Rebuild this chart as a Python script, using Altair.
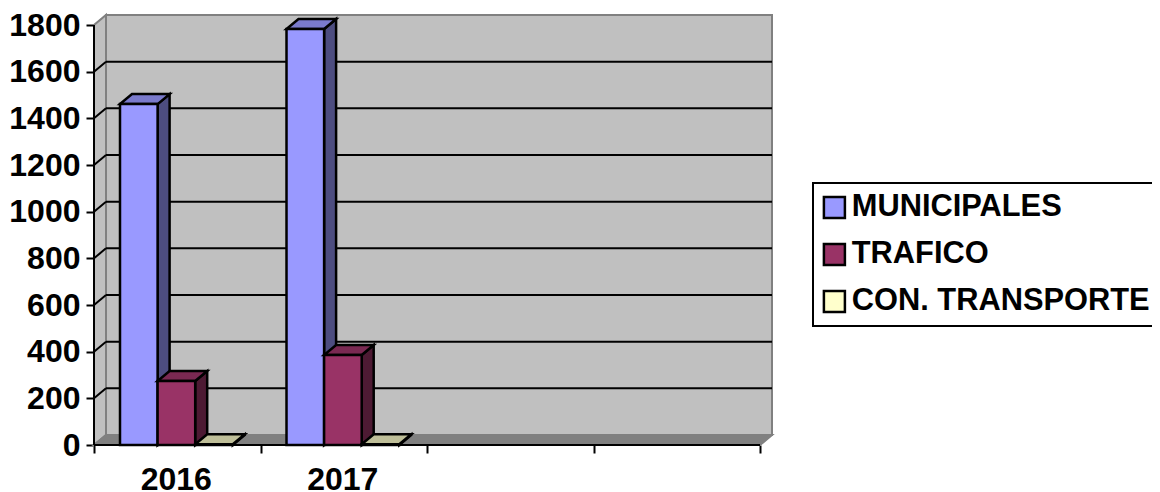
import altair as alt
import pandas as pd

# ---- values ----
years = ["2016", "2017"]
slots = 4
series = ["MUNICIPALES", "TRAFICO", "CON. TRANSPORTE"]
municipales = [1461, 1783]
trafico = [274, 386]
transporte = [3, 3]
y_ticks = [0, 200, 400, 600, 800, 1000, 1200, 1400, 1600, 1800]

front_colors = ["#9999FF", "#993366", "#FFFFCC"]
side_colors = ["#4D4D80", "#4D1A33", "#808066"]
top_colors = ["#7A7ACC", "#7A2952", "#BFBF99"]

# ---- pseudo-3D geometry, in scale units ----
YMAX = 1800
DX = 12 / 166.5
DY = 10 / 420 * 1800
GAP = 26 / 166.5
BAR = 37.6 / 166.5
FONT = "Liberation Sans"
FS = 32
LEGEND_FS = 30.8
BAR_SW = 2.5

XS = alt.Scale(domain=[0, slots + DX], range=[0, 678], nice=False, zero=False)
YS = alt.Scale(domain=[0, YMAX + DY], range=[430, 0], nice=False, zero=False)

tick_positions = sorted(list(range(slots + 1)) + [i + 0.5 for i in range(len(years))])
label_expr = "+".join(
    [f"(datum.value=={i + 0.5}?'{y}':'')" for i, y in enumerate(years)]
)
XAXIS = alt.Axis(
    values=tick_positions,
    labelExpr=label_expr,
    domain=False,
    grid=False,
    tickColor="black",
    tickWidth=2,
    tickSize=8,
    tickOpacity={"condition": {"test": "datum.value % 1 != 0", "value": 0}, "value": 1},
    labelFont=FONT,
    labelFontSize=FS,
    labelFontWeight="bold",
    labelColor="black",
    labelPadding=11,
    labelOffset=-1.5,
    labelFlush=False,
    labelOverlap=False,
)
YAXIS = alt.Axis(
    values=y_ticks,
    domain=False,
    grid=False,
    format="d",
    tickColor="black",
    tickWidth=2,
    tickSize=8,
    labelFont=FONT,
    labelFontSize=FS,
    labelFontWeight="bold",
    labelColor="black",
    labelPadding=6,
    labelOverlap=False,
    labelFlush=False,
)


def X(f="x"):
    return alt.X(f"{f}:Q", scale=XS, title=None, axis=XAXIS)


def Y(f="y"):
    return alt.Y(f"{f}:Q", scale=YS, title=None, stack=None, axis=YAXIS)


def poly(rows, fill, stroke, sw=2):
    """rows: (id, x, y, y2) slices of a polygon drawn as an area"""
    df = pd.DataFrame(rows, columns=["id", "x", "y", "y2"])
    return (
        alt.Chart(df)
        .mark_area(fill=fill, stroke=stroke, strokeWidth=sw, strokeJoin="miter", opacity=1)
        .encode(x=X(), y=Y(), y2="y2:Q", detail="id:N")
    )


wall = (
    alt.Chart(pd.DataFrame({"x": [DX], "x2": [slots + DX], "y": [DY], "y2": [YMAX + DY]}))
    .mark_rect(fill="#C0C0C0", stroke="#808080", strokeWidth=2)
    .encode(x=X(), x2="x2:Q", y=Y(), y2="y2:Q")
)

side_wall = poly(
    [("w", 0, 0, YMAX), ("w", DX, DY, YMAX + DY)], "#C0C0C0", "#808080"
)
floor = poly(
    [
        ("f", 0, 0, 0),
        ("f", DX, 0, DY),
        ("f", slots, 0, DY),
        ("f", slots + DX, DY, DY),
    ],
    "#808080",
    "#808080",
)

grid_vals = [v for v in y_ticks if 0 < v < YMAX]
grid = (
    alt.Chart(pd.DataFrame({"x": [DX] * len(grid_vals), "x2": [slots + DX] * len(grid_vals),
                            "y": [v + DY for v in grid_vals]}))
    .mark_rule(color="black", strokeWidth=2)
    .encode(x=X(), x2="x2:Q", y=Y())
)
diag = (
    alt.Chart(pd.DataFrame({"x": [0] * len(grid_vals), "x2": [DX] * len(grid_vals),
                            "y": grid_vals, "y2": [v + DY for v in grid_vals]}))
    .mark_rule(color="black", strokeWidth=2)
    .encode(x=X(), x2="x2:Q", y=Y(), y2="y2:Q")
)

y_line = (
    alt.Chart(pd.DataFrame({"x": [0], "y": [0], "y2": [YMAX]}))
    .mark_rule(color="black", strokeWidth=2)
    .encode(x=X(), y=Y(), y2="y2:Q")
)
x_line = (
    alt.Chart(pd.DataFrame({"x": [0], "x2": [slots], "y": [0]}))
    .mark_rule(color="black", strokeWidth=2)
    .encode(x=X(), x2="x2:Q", y=Y())
)

layers = [wall, side_wall, floor, grid, diag]

legend = alt.Legend(
    orient="none",
    legendX=719,
    legendY=168,
    title=None,
    labelFont=FONT,
    labelFontSize=LEGEND_FS,
    labelFontWeight="bold",
    labelColor="black",
    symbolType="square",
    symbolSize=441,
    symbolOffset=-3,
    symbolStrokeColor="black",
    symbolStrokeWidth=2.5,
    fillColor="white",
    strokeColor="black",
    padding=9,
    rowPadding=15,
    labelOffset=2,
    labelLimit=400,
)

for s, (name, vals) in enumerate(zip(series, [municipales, trafico, transporte])):
    lefts = [i + GAP + s * BAR for i in range(len(years))]
    side_rows, top_rows = [], []
    for j, (x0, v) in enumerate(zip(lefts, vals)):
        x1 = x0 + BAR
        side_rows += [(j, x1, 0, v), (j, x1 + DX, DY, v + DY)]
        top_rows += [
            (j, x0, v, v),
            (j, x0 + DX, v, v + DY),
            (j, x1, v, v + DY),
            (j, x1 + DX, v + DY, v + DY),
        ]
    layers.append(poly(side_rows, side_colors[s], "black", BAR_SW))
    layers.append(poly(top_rows, top_colors[s], "black", BAR_SW))
    front = pd.DataFrame(
        {
            "x": lefts,
            "x2": [x + BAR for x in lefts],
            "y": [0] * len(vals),
            "y2": vals,
            "serie": [name] * len(vals),
        }
    )
    layers.append(
        alt.Chart(front)
        .mark_rect(stroke="black", strokeWidth=BAR_SW)
        .encode(
            x=X(),
            x2="x2:Q",
            y=Y(),
            y2="y2:Q",
            color=alt.Color(
                "serie:N",
                scale=alt.Scale(domain=series, range=front_colors),
                legend=legend,
            ),
        )
    )

layers += [y_line, x_line]

chart = (
    alt.layer(*layers)
    .properties(
        width=678,
        height=430,
        autosize=alt.AutoSizeParams(type="none"),
        padding={"left": 86, "top": 7, "right": 380, "bottom": 47},
        background="white",
    )
    .configure_view(stroke=None)
    .configure_legend(strokeWidth=2)
)

chart.save("out.html", embed_options={"renderer": "svg", "actions": False})
